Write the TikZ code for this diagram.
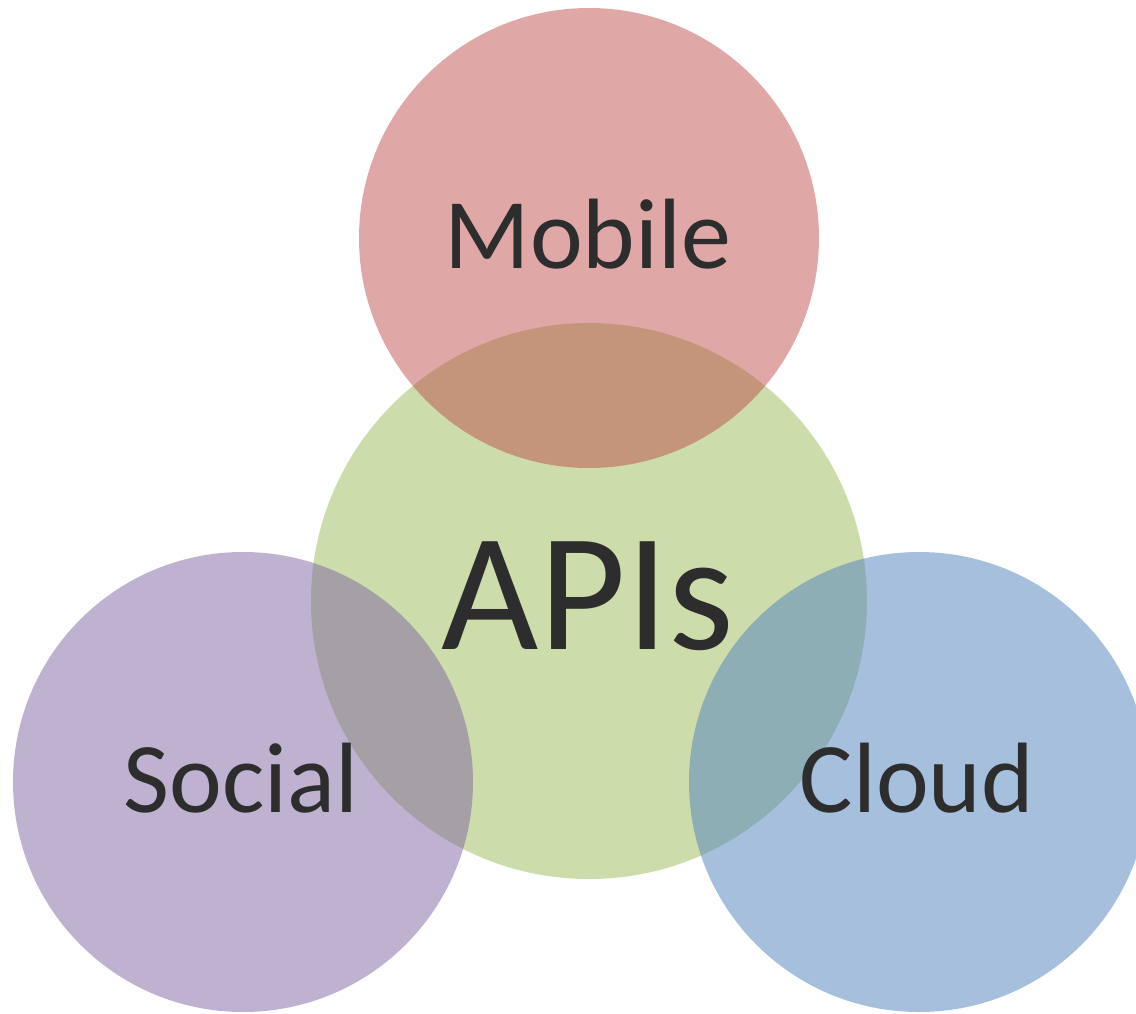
\documentclass[tikz,border=0pt]{standalone}
\usepackage{fontspec}
\setmainfont{Carlito}
\definecolor{redfill}{RGB}{192,80,77}
\definecolor{greenfill}{RGB}{155,187,89}
\definecolor{purplefill}{RGB}{128,100,162}
\definecolor{bluefill}{RGB}{79,129,189}
\definecolor{labeltext}{RGB}{45,45,45}
\tikzset{
  bubble/.style={circle, draw=none, inner sep=0pt, fill opacity=0.5},
  small/.style={bubble, minimum size=460pt},
  big/.style={bubble, minimum size=556pt},
  word/.style={anchor=base, inner sep=0pt, text=labeltext,
    font=\fontsize{100}{110}\selectfont},
  bigword/.style={word, font=\fontsize{168}{180}\selectfont}
}
\begin{document}
\begin{tikzpicture}[x=1pt, y=-1pt]
  \useasboundingbox (0,0) rectangle (1136,1013);
  \clip (0,0) rectangle (1136,1013);
  \fill[white] (0,0) rectangle (1136,1013);
  % centre topic first, the three satellites overlap it
  \node[big, fill=greenfill] (apis) at (589,601) {};
  \node[small, fill=redfill] (mobile) at (589,238) {};
  \node[small, fill=purplefill] (social) at (243,782) {};
  \node[small, fill=bluefill] (cloud) at (919,782) {};
  % labels
  \node[word] (mobiletext) at (588,268) {Mobile};
  \node[bigword] (apistext) at (588,649) {APIs};
  \node[word] (socialtext) at (241,812) {Social};
  \node[word] (cloudtext) at (917,812) {Cloud};
\end{tikzpicture}
\end{document}
